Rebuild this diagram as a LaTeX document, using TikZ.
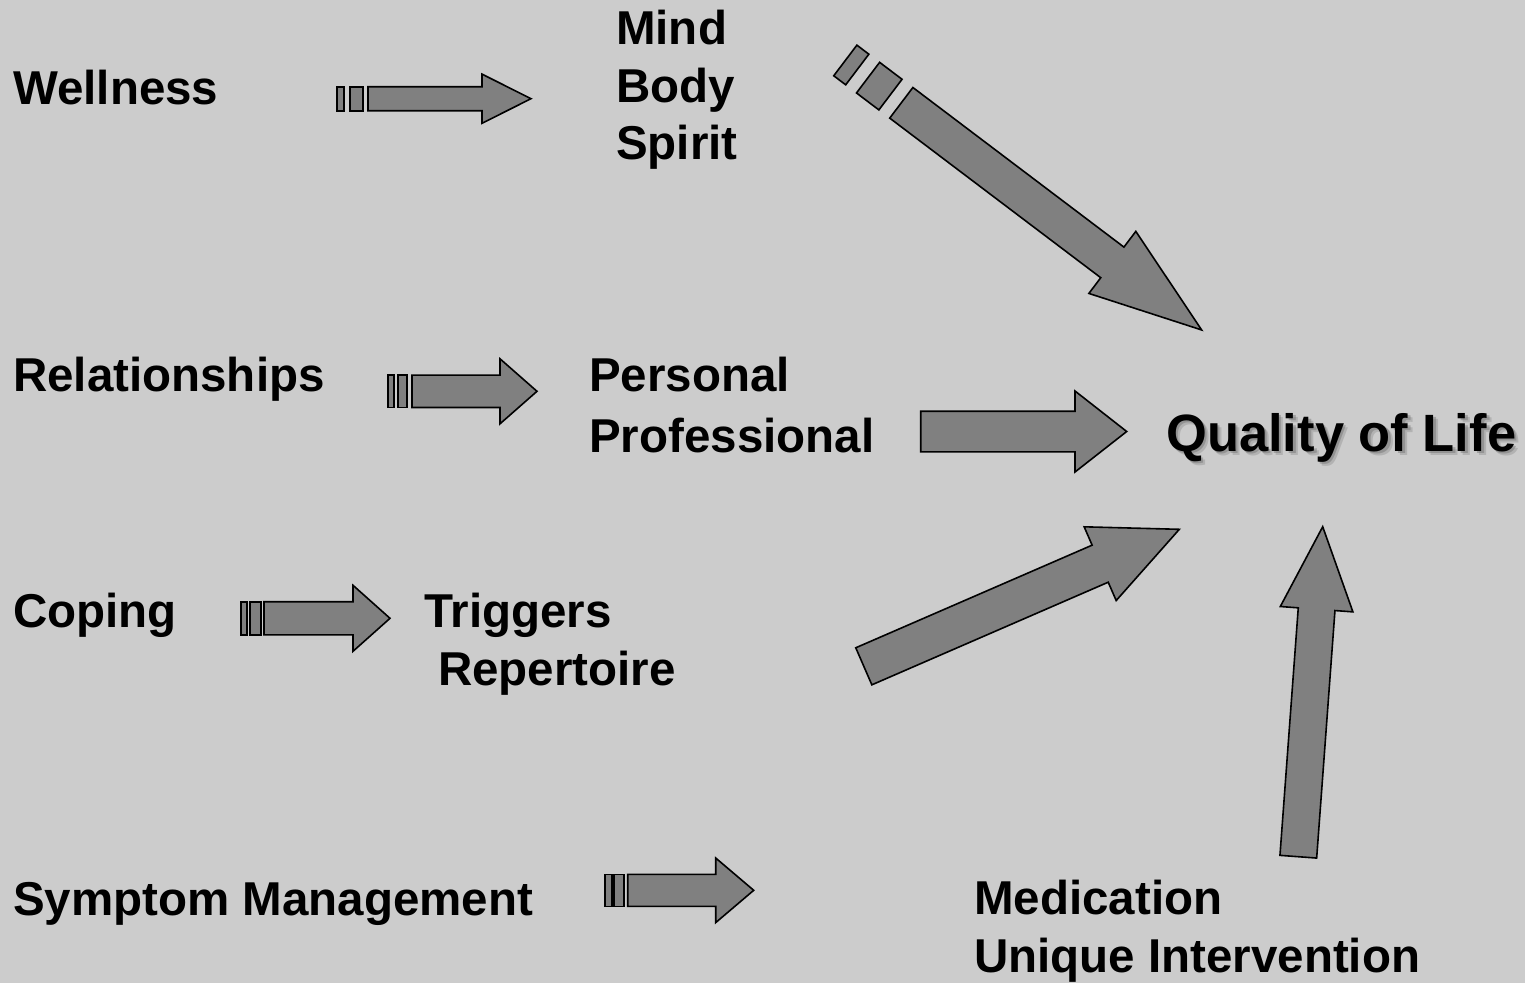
\documentclass[tikz,border=0pt]{standalone}
\usepackage{fontspec}
\setmainfont{Liberation Sans}
\begin{document}
% Block arrow: tail centre, angle, length, shaft half-width, head half-width, head length
\newcommand\blockarrow[6]{%
  \begin{scope}[shift={#1},rotate=#2]
    \draw[arrowbody] (0,-#4) -- ({#3-#6},-#4) -- ({#3-#6},-#5) -- (#3,0)
      -- ({#3-#6},#5) -- ({#3-#6},#4) -- (0,#4) -- cycle;
  \end{scope}}
% Two tail stripes: tail centre, angle, half-width, stripe 1 from/to, stripe 2 from/to
\newcommand\tailstripes[7]{%
  \begin{scope}[shift={#1},rotate=#2]
    \draw[arrowbody] (#4,-#3) -- (#5,-#3) -- (#5,#3) -- (#4,#3) -- cycle;
    \draw[arrowbody] (#6,-#3) -- (#7,-#3) -- (#7,#3) -- (#6,#3) -- cycle;
  \end{scope}}
\begin{tikzpicture}[x=1pt,y=1pt,
  arrowbody/.style={draw=black,fill=arrowgray,line width=1.6pt,line join=miter},
  label/.style={inner sep=0pt,anchor=base west,font=\bfseries\fontsize{47.5}{57}\selectfont},
  goal/.style={inner sep=0pt,anchor=base west,font=\bfseries\fontsize{52.5}{63}\selectfont}]
\definecolor{bggray}{RGB}{204,204,204}
\definecolor{arrowgray}{RGB}{128,128,128}
\useasboundingbox (0,0) rectangle (1525,-983);
\fill[bggray] (0,0) rectangle (1525,-983);

% left-hand topics
\node[label] (wellness) at (13,-104) {Wellness};
\node[label] (relationships) at (13,-391) {Relationships};
\node[label] (coping) at (13,-627) {Coping};
\node[label] (symptom) at (13,-915) {Symptom Management};

% their aspects
\node[label] (mind) at (616,-44) {Mind};
\node[label] (body) at (616,-102) {Body};
\node[label] (spirit) at (616,-159) {Spirit};
\node[label] (personal) at (589,-391) {Personal};
\node[label] (professional) at (589,-452) {Professional};
\node[label] (triggers) at (424,-627) {Triggers};
\node[label] (repertoire) at (438,-685) {Repertoire};
\node[label] (medication) at (974,-914) {Medication};
\node[label] (unique) at (974,-972) {Unique Intervention};

% goal with a soft drop shadow
\foreach \dx/\dy/\op in {2.5/-2.5/0.4,4.5/-4.5/0.25}
  \node[goal,text=black!60,opacity=\op] at (1166+\dx,-451+\dy) {Quality of Life};
\node[goal] (quality) at (1166,-451) {Quality of Life};

% tails of the arrows
\coordinate (wellTail) at (368,-98.7);
\coordinate (relTail) at (412,-391.3);
\coordinate (copTail) at (264,-618.3);
\coordinate (symTail) at (627.7,-890.3);
\coordinate (spiritTail) at (901.3,-102.8);
\coordinate (profTail) at (920.7,-431.5);
\coordinate (trigTail) at (863.8,-666.3);
\coordinate (medTail) at (1298.3,-856.7);

% striped arrows from each topic to its aspects
\tailstripes{(wellTail)}{0}{12}{-31}{-24}{-18}{-5}
\blockarrow{(wellTail)}{0}{163}{12}{24.6}{49}
\tailstripes{(relTail)}{0}{16.2}{-24}{-18}{-14}{-5}
\blockarrow{(relTail)}{0}{125}{16.2}{32.5}{37}
\tailstripes{(copTail)}{0}{16.6}{-23}{-17}{-14}{-3}
\blockarrow{(copTail)}{0}{126}{16.6}{33}{37}
\tailstripes{(symTail)}{0}{16}{-23}{-16}{-14}{-4}
\blockarrow{(symTail)}{0}{126}{16}{32.3}{38}

% arrows converging on the goal
\tailstripes{(spiritTail)}{-37.1}{19.2}{-70.2}{-55.2}{-41.7}{-13.6}
\blockarrow{(spiritTail)}{-37.1}{376.6}{19.2}{38.9}{112}
\blockarrow{(profTail)}{0}{206}{20.3}{40.5}{51.7}
\blockarrow{(trigTail)}{23.47}{344}{20.2}{40.2}{86.3}
\blockarrow{(medTail)}{85.77}{330.9}{18.4}{36.4}{82.7}
\end{tikzpicture}
\end{document}
